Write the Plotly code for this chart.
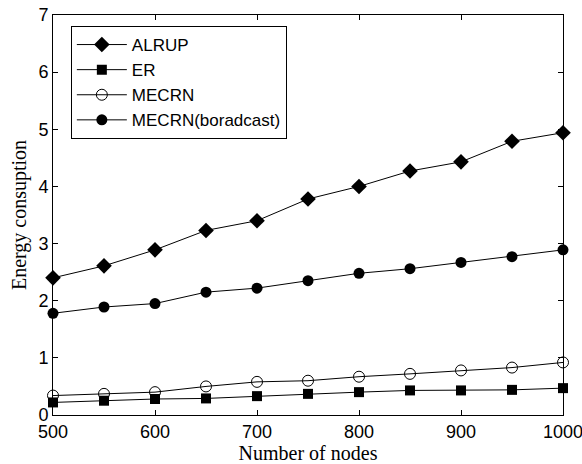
import plotly.graph_objects as go

nodes = [500, 550, 600, 650, 700, 750, 800, 850, 900, 950, 1000]
alrup = [2.40, 2.61, 2.89, 3.23, 3.40, 3.78, 4.00, 4.27, 4.43, 4.79, 4.94]
er = [0.22, 0.25, 0.28, 0.29, 0.33, 0.37, 0.40, 0.43, 0.43, 0.44, 0.47]
mecrn = [0.34, 0.37, 0.40, 0.50, 0.58, 0.60, 0.67, 0.72, 0.78, 0.83, 0.92]
mecrn_bc = [1.78, 1.89, 1.95, 2.15, 2.22, 2.35, 2.48, 2.56, 2.67, 2.77, 2.89]

series = [
    ("ALRUP", alrup, dict(symbol="diamond", size=12, color="black")),
    ("ER", er, dict(symbol="square", size=10, color="black")),
    ("MECRN", mecrn, dict(symbol="circle-open", size=11, color="black", line=dict(width=1, color="black"))),
    ("MECRN(boradcast)", mecrn_bc, dict(symbol="circle", size=11, color="black")),
]

fig = go.Figure()
for name, vals, mk in series:
    fig.add_trace(go.Scatter(x=nodes, y=vals, name=name, mode="lines+markers",
                             line=dict(color="black", width=1), marker=mk, cliponaxis=False))

axis_common = dict(showline=True, linecolor="black", linewidth=1, mirror="ticks",
                   ticks="inside", ticklen=5, tickcolor="black", showgrid=False, zeroline=False,
                   automargin=False, ticklabeloverflow="allow",
                   tickfont=dict(family="Arial, Liberation Sans", size=18, color="black"))

fig.update_layout(
    width=582, height=464,
    margin=dict(l=53, r=19, t=15, b=49, autoexpand=False),
    paper_bgcolor="white", plot_bgcolor="white",
    xaxis=dict(range=[500, 1000], tickvals=[500, 600, 700, 800, 900, 1000],
               title=dict(text="Number of nodes", standoff=3,
                          font=dict(family="Times New Roman, Liberation Serif", size=20, color="black")),
               **axis_common),
    yaxis=dict(range=[0, 7], tickvals=[0, 1, 2, 3, 4, 5, 6, 7],
               title=dict(text="Energy consuption", standoff=6,
                          font=dict(family="Times New Roman, Liberation Serif", size=20, color="black")),
               **axis_common),
    legend=dict(x=0.035, y=0.9725, xanchor="left", yanchor="top",
                bordercolor="black", borderwidth=1, bgcolor="white", itemwidth=50,
                font=dict(family="Arial, Liberation Sans", size=17, color="black"),
                tracegroupgap=0),
    showlegend=True,
)

fig.write_html("out.html")
